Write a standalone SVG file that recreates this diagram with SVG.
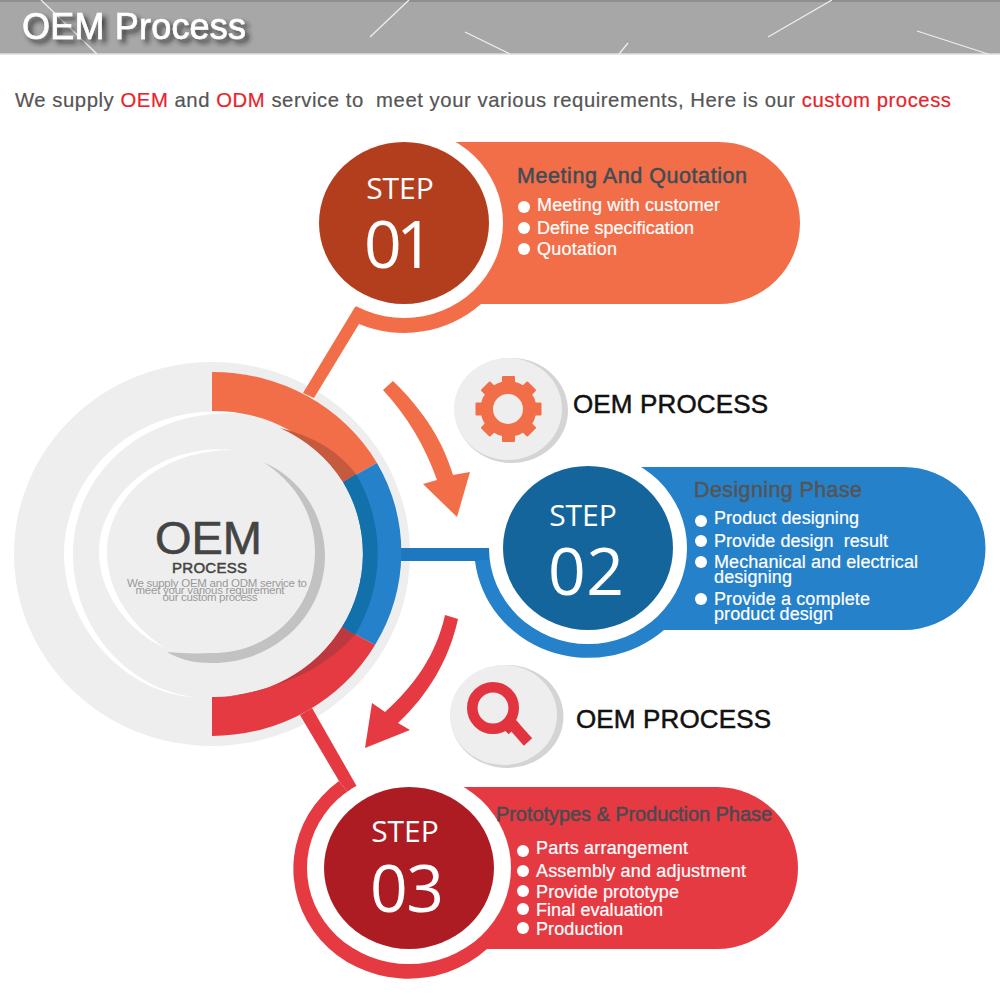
<svg xmlns="http://www.w3.org/2000/svg" width="1000" height="1000" viewBox="0 0 1000 1000">
<style>
text{font-family:"Liberation Sans",Arial,sans-serif;white-space:pre}
.num{font-family:"Open Sans","Noto Sans",sans-serif;fill:#fff;text-anchor:middle}
.step{font-size:30px}
.big{font-size:66px}
.item{font-size:18px;fill:#fff;stroke:#fff;stroke-width:.2}
.head{font-size:21.5px;stroke-width:.5}
.lab{font-size:26px;fill:#111;stroke:#111;stroke-width:.5}
.bul{fill:#fff}
.or{fill:#F26E48}.bl{fill:#2581CA}.re{fill:#E63A42}
.wh{fill:#fff}
.sub{font-size:11.5px;fill:#999;text-anchor:middle}
.hl{stroke:#eee;stroke-width:1.3;fill:none}
.red{fill:#E8232B}
</style>
<defs><filter id="sh" x="-10%" y="-30%" width="125%" height="170%"><feDropShadow dx="4" dy="4" stdDeviation="2.5" flood-color="#222" flood-opacity=".8"/></filter></defs>

<g id="header">
<rect x="0" y="0" width="1000" height="54" fill="#A7A7A7"/>
<rect x="0" y="0" width="1000" height="2" fill="#8f8f8f"/>
<rect x="0" y="53" width="1000" height="1.5" fill="#d0d0d0"/>
<path class="hl" d="M41,0L97,54M370,37L409,0M465,32L510,54M619,54L628,43M768,37L832,0M917,31L988,54"/>
<text x="22" y="39" font-size="36" fill="#fff" stroke="#fff" stroke-width=".6" textLength="224" filter="url(#sh)">OEM Process</text>
</g>
<text id="subtitle" x="15" y="107" font-size="20.3" fill="#555" stroke="#555" stroke-width=".2" textLength="936">We supply <tspan class="red" stroke="#E8232B">OEM</tspan> and <tspan class="red" stroke="#E8232B">ODM</tspan> service to  meet your various requirements, Here is our <tspan class="red" stroke="#E8232B">custom process</tspan></text>

<g id="hub">
<ellipse cx="212" cy="554" rx="198" ry="192" fill="#EEE"/>
<path class="wh" d="M240,413C130,400 64,480 64,554C64,630 130,695 195,697C130,690 73,630 73,554C73,480 135,410 240,413Z"/>
<path class="wh" d="M235,450C160,442 99,495 99,552C99,590 125,630 165,648C130,625 107,590 107,552C107,495 165,448 235,450Z"/>
<path fill="#C2C2C2" d="M263,462C305,480 325,520 325,556C325,615 275,663 212,663C195,663 180,660 167,652C180,653 195,654 212,653C270,653 315,610 315,552C315,520 300,485 263,462Z"/>
<text x="155" y="554" font-size="47" fill="#444" stroke="#444" stroke-width=".6" textLength="107">OEM</text>
<text x="172" y="573" font-size="15" fill="#444" stroke="#444" stroke-width=".5" textLength="75">PROCESS</text>
<text class="sub" x="217" y="587" textLength="180">We supply OEM and ODM service to</text>
<text class="sub" x="210" y="594" textLength="149">meet your various requirement</text>
<text class="sub" x="210" y="601" textLength="95">our custom process</text>
</g>

<g id="connectors">
<path class="or" d="M303,393L355,307L404,280L359,324L314,398Z"/>
<path class="or" d="M359,324A114,110 0 0 0 481,304L404,223Z"/>
<rect x="395" y="548" width="95" height="13" fill="#1E78C0"/>
<path class="bl" d="M475,561A114,110 0 0 0 664,630L588,548Z"/>
<path class="re" d="M300,715L312,708L356,785L409,868L339,781Z"/>
<path class="re" d="M339,781A115,110 0 1 0 487,949L409,868Z"/>
<path class="or" id="arrow1" d="M383,390L393,381C425,412 443,442 453,475L470,472L457,517L423,484L437,480C425,446 408,417 383,390Z"/>
<path class="re" id="arrow2" d="M445,615L458,619C449,660 428,695 398,723L410,730L365,748L372,703L385,712C415,685 436,655 445,615Z"/>
</g>

<g id="ring">
<path class="or" d="M212,372A189,182 0 0 1 377,463L343,482A148,143 0 0 0 212,411Z"/>
<path class="bl" d="M377,463A189,182 0 0 1 375,645L342,627A148,143 0 0 0 343,482Z"/>
<path class="re" d="M375,645A189,182 0 0 1 212,736L212,697A148,143 0 0 0 342,627Z"/>
<path fill="#1270AA" d="M343,482L356,474A168,162 0 0 1 355,635L342,627A148,143 0 0 0 343,482Z"/>
<path fill="#C65A3E" d="M280,428Q330,440 356,474L343,482A148,143 0 0 0 280,428Z"/>
<path fill="#BE3840" d="M342,627L355,635Q310,685 225,697A148,143 0 0 0 342,627Z"/>
</g>

<g id="step1">
<path class="or" d="M404,142H719A81,81 0 0 1 719,304H404Z"/>
<ellipse cx="404" cy="223" rx="99" ry="95" class="wh"/>
<ellipse cx="404" cy="223" rx="85" ry="81" fill="#B33E1E"/>
<text class="num step" x="400" y="199">STEP</text>
<text class="num big" x="399" y="268" textLength="70">01</text>
<text class="head" x="517" y="183" fill="#3F4C55" stroke="#3F4C55" textLength="230">Meeting And Quotation</text>
<circle class="bul" cx="524" cy="207" r="6"/><text class="item" x="537" y="211" textLength="183">Meeting with customer</text>
<circle class="bul" cx="524" cy="228" r="6"/><text class="item" x="537" y="234" textLength="157">Define specification</text>
<circle class="bul" cx="524" cy="249" r="6"/><text class="item" x="537" y="255" textLength="80">Quotation</text>
</g>

<g id="step2">
<path class="bl" d="M588,467H904A81.5,81.5 0 0 1 904,630H588Z"/>
<ellipse cx="588" cy="548" rx="99" ry="96" class="wh"/>
<ellipse cx="588" cy="548" rx="85" ry="82" fill="#14659C"/>
<text class="num step" x="583" y="526">STEP</text>
<text class="num big" x="586" y="595" textLength="76">02</text>
<text class="head" x="694" y="497" fill="#555" stroke="#555" textLength="168">Designing Phase</text>
<circle class="bul" cx="701" cy="521" r="6"/><text class="item" x="714" y="524" textLength="145">Product designing</text>
<circle class="bul" cx="701" cy="541" r="6"/><text class="item" x="714" y="547" textLength="174">Provide design  result</text>
<circle class="bul" cx="701" cy="562" r="6"/><text class="item" x="714" y="568" textLength="204">Mechanical and electrical</text>
<text class="item" x="714" y="583" textLength="78">designing</text>
<circle class="bul" cx="701" cy="599" r="6"/><text class="item" x="714" y="605" textLength="156">Provide a complete</text>
<text class="item" x="714" y="620" textLength="119">product design</text>
</g>

<g id="step3">
<path class="re" d="M409,787H717A81,81 0 0 1 717,949H409Z"/>
<ellipse cx="409" cy="868" rx="102" ry="96" class="wh"/>
<ellipse cx="409" cy="868" rx="85" ry="81" fill="#AE1C23"/>
<text class="num step" x="405" y="842">STEP</text>
<text class="num big" x="407" y="912" textLength="74">03</text>
<text class="head" x="496" y="821" style="font-size:20px" fill="#4A4A50" stroke="#4A4A50" textLength="276">Prototypes &amp; Production Phase</text>
<circle class="bul" cx="523" cy="851" r="6"/><text class="item" x="536" y="854" textLength="152">Parts arrangement</text>
<circle class="bul" cx="523" cy="871" r="6"/><text class="item" x="536" y="877" textLength="210">Assembly and adjustment</text>
<circle class="bul" cx="523" cy="891" r="6"/><text class="item" x="536" y="898" textLength="143">Provide prototype</text>
<circle class="bul" cx="523" cy="909" r="6"/><text class="item" x="536" y="916" textLength="127">Final evaluation</text>
<circle class="bul" cx="523" cy="928" r="6"/><text class="item" x="536" y="935" textLength="87">Production</text>
</g>

<g id="badge1">
<ellipse cx="511.5" cy="410.5" rx="56.5" ry="52.5" fill="#D4D4D4"/>
<ellipse cx="508" cy="409" rx="54" ry="51" fill="#EEE"/>
<g class="or">
<rect x="502" y="376" width="13" height="66" rx="1"/>
<rect x="502" y="376" width="13" height="66" rx="1" transform="rotate(45 508.5 409)"/>
<rect x="502" y="376" width="13" height="66" rx="1" transform="rotate(90 508.5 409)"/>
<rect x="502" y="376" width="13" height="66" rx="1" transform="rotate(135 508.5 409)"/>
<circle cx="508.5" cy="409" r="28"/>
</g>
<circle cx="508" cy="409" r="15" fill="#EEE"/>
<text class="lab" x="573" y="413" textLength="195">OEM PROCESS</text>
</g>

<g id="badge2">
<ellipse cx="507" cy="716.5" rx="56.5" ry="51.5" fill="#D4D4D4"/>
<ellipse cx="503.5" cy="715" rx="53.5" ry="50" fill="#EEE"/>
<circle cx="493" cy="708" r="20.7" fill="none" stroke="#E2343F" stroke-width="10.6"/>
<path d="M512,724L528,742" stroke="#E2343F" stroke-width="11" fill="none"/>
<path d="M509,724L514,729" stroke="#E2343F" stroke-width="15" fill="none"/>
<text class="lab" x="576" y="728" textLength="195">OEM PROCESS</text>
</g>
</svg>
